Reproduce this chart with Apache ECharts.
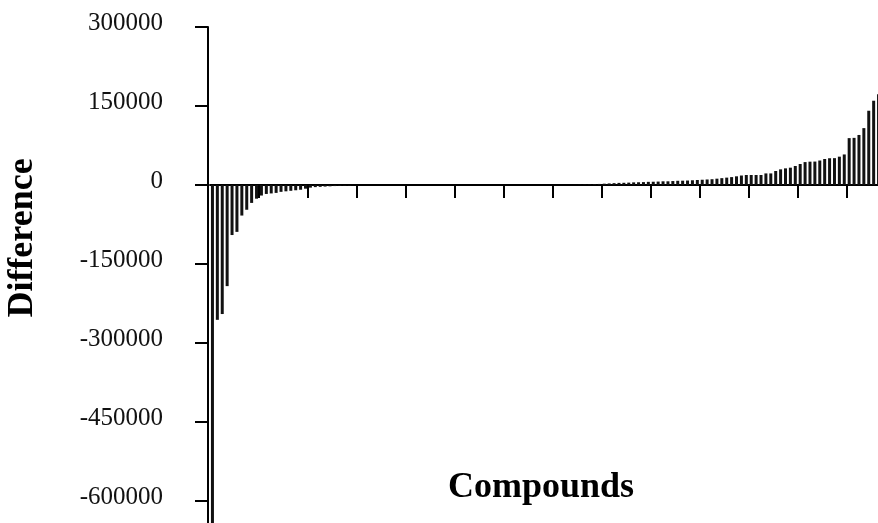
<!DOCTYPE html>
<html>
<head>
<meta charset="utf-8">
<title>Difference by compound</title>
<script src="https://cdn.jsdelivr.net/npm/echarts@6/dist/echarts.min.js"></script>
<style>
  html, body { margin: 0; padding: 0; background: #fff; }
  #chart { width: 878px; height: 523px; }
</style>
</head>
<body>
<div id="chart"></div>
<script>
// values, sorted as in the figure (left to right)
const lossBars = [
  -680000, -256000, -245000, -192000, -95000, -89000, -58000, -47000, -34000, -26000,
  -20000, -17000, -16000, -15000, -13000, -12000, -11000, -10000, -9000, -7000,
  -5000, -4000, -3500, -3000, -2500, -2000, -1500, -1200, -1000
]
const flatBars = [
  0, 0, 0, 0, 0, 0, 0, 0, 0, 0, 0, 0, 0, 0, 0,
  0, 0, 0, 0, 0, 0, 0, 0, 0, 0, 0, 0, 0, 0, 0,
  0, 0, 0, 0, 0, 0, 0, 0, 0, 0, 0, 0, 0, 0, 0
]
const gainBars = [
  300, 500, 800, 1000, 1500, 2000, 2500, 3000, 3500, 4000,
  4200, 4500, 5000, 5200, 5500, 6000, 6200, 6500, 7000, 7000,
  7500, 8000, 8200, 8500, 9000, 9500, 10000, 10500, 11000, 12000,
  13000, 14000, 15000, 16500, 18000, 19000, 19000, 19000, 19000, 22000,
  22000, 26600, 29700, 31600, 32900, 36100, 39900, 43500, 44300, 44500,
  46500, 49400, 50800, 51000, 53800, 58000, 89000, 89500, 95000, 108000,
  141000, 160000, 172500
]
const yTicks = [300000, 150000, 0, -150000, -300000, -450000, -600000, -750000]

const differences = [...lossBars, ...flatBars, ...gainBars]
const compounds = differences.map((_, i) => 'C' + (i + 1))

const serif = '"Liberation Serif", "Times New Roman", serif'
const chart = echarts.init(document.getElementById('chart'))

chart.setOption({
  animation: false,
  // plot runs past the bottom and right edges, as in the cropped figure
  grid: { left: 210, top: 27, right: -3, height: 553, containLabel: false, outerBoundsMode: 'none' },
  xAxis: {
    type: 'category',
    data: compounds,
    axisLine: { onZero: true, lineStyle: { color: '#000', width: 2 } },
    axisTick: {
      show: true,
      interval: (i) => i > 0 && i % 10 === 0,
      length: 13,
      lineStyle: { color: '#000', width: 2 }
    },
    axisLabel: { show: false },
    splitLine: { show: false }
  },
  yAxis: {
    type: 'value',
    offset: 2,
    min: yTicks[yTicks.length - 1],
    max: yTicks[0],
    interval: 150000,
    axisLine: { show: true, lineStyle: { color: '#000', width: 2 } },
    axisTick: { show: true, length: 13, lineStyle: { color: '#000', width: 2 } },
    axisLabel: {
      margin: 45,
      color: '#111',
      fontFamily: serif,
      fontSize: 25,
      verticalAlign: 'bottom',
      lineHeight: 8,
      formatter: v => String(v)
    },
    splitLine: { show: false }
  },
  series: [{
    type: 'bar',
    data: differences,
    barWidth: 3,
    itemStyle: { color: '#111' }
  }],
  graphic: [
    {
      type: 'text',
      x: 23, y: 238,
      rotation: Math.PI / 2,
      style: {
        text: 'Difference',
        font: 'bold 36px ' + serif,
        fill: '#000',
        align: 'center',
        verticalAlign: 'middle'
      }
    },
    {
      type: 'text',
      x: 541, y: 488,
      style: {
        text: 'Compounds',
        font: 'bold 36px ' + serif,
        fill: '#000',
        align: 'center',
        verticalAlign: 'middle'
      }
    }
  ]
})
</script>
</body>
</html>
